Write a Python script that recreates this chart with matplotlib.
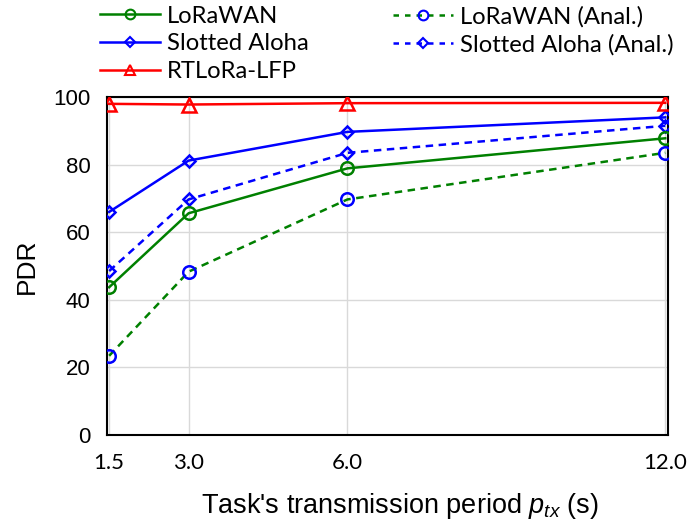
import matplotlib
matplotlib.use("Agg")
import matplotlib.pyplot as plt
from matplotlib.lines import Line2D

plt.rcParams["mathtext.fontset"] = "custom"
plt.rcParams["mathtext.it"] = "Liberation Sans:italic"
plt.rcParams["mathtext.rm"] = "Liberation Sans"

# Transmission periods (s) and packet delivery ratios (%)
periods = [1.5, 3.0, 6.0, 12.0]
period_labels = ["1.5", "3.0", "6.0", "12.0"]
lorawan = [43.7, 65.6, 78.9, 87.8]
slotted_aloha = [66.0, 81.2, 89.7, 94.0]
rtlora_lfp = [98.0, 97.8, 98.2, 98.3]
lorawan_anal = [23.4, 48.3, 69.7, 83.5]
slotted_aloha_anal = [48.5, 69.7, 83.5, 91.5]
y_ticks = [0, 20, 40, 60, 80, 100]

GREEN = "#008000"
BLUE = "#0000FF"
RED = "#FF0000"
ARIAL = "Liberation Sans"
LEG_FONT = "Lato"

fig = plt.figure(figsize=(6.95, 5.22), dpi=100)
ax = fig.add_axes([0.154, 0.167, 0.807, 0.647])

lw = 1.8
dash = (0, (3.0, 2.2))

ax.plot(periods, lorawan_anal, color=GREEN, lw=lw, linestyle=dash,
        marker="o", ms=9, mfc="none", mec=BLUE, mew=1.8, zorder=3)
ax.plot(periods, slotted_aloha_anal, color=BLUE, lw=lw, linestyle=dash,
        marker="D", ms=6.3, mfc="none", mec=BLUE, mew=1.8, zorder=3)
ax.plot(periods, lorawan, color=GREEN, lw=lw,
        marker="o", ms=9, mfc="none", mec=GREEN, mew=1.8, zorder=4)
ax.plot(periods, slotted_aloha, color=BLUE, lw=lw,
        marker="D", ms=6.3, mfc="none", mec=BLUE, mew=1.8, zorder=4)
ax.plot(periods, rtlora_lfp, color=RED, lw=lw,
        marker="^", ms=9.5, mfc="none", mec=RED, mew=1.8, zorder=5)

ax.set_xlim(1.46, 12.05)
ax.set_ylim(0, 100)
ax.set_xticks(periods)
ax.set_xticklabels(period_labels, fontfamily=LEG_FONT, fontsize=16)
ax.set_yticks(y_ticks)
ax.set_yticklabels([str(v) for v in y_ticks], fontfamily=ARIAL, fontsize=16)
ax.tick_params(axis="x", length=0, pad=13)
ax.tick_params(axis="y", length=0, pad=12)

ax.grid(True, color="#d9d9d9", lw=1.0, zorder=0)
ax.set_axisbelow(True)
for s in ax.spines.values():
    s.set_color("black")
    s.set_linewidth(1.5)

ax.set_ylabel("PDR", fontfamily=ARIAL, fontsize=19, labelpad=10)
ax.set_xlabel(r"Task's transmission period $p_{tx}$ (s)", fontfamily=ARIAL,
              fontsize=19.5)
ax.xaxis.set_label_coords(0.522, -0.166)

# Legend: left column solid series, right column analytical series
def handle(color, marker, mec, ms, ls="-"):
    return Line2D([], [], color=color, lw=lw, linestyle=ls, marker=marker,
                  ms=ms, mfc="none", mec=mec, mew=1.5)

h_left = [handle(GREEN, "o", GREEN, 7), handle(BLUE, "D", BLUE, 5),
          handle(RED, "^", RED, 7)]
l_left = ["LoRaWAN", "Slotted Aloha", "RTLoRa-LFP"]
h_right = [handle(GREEN, "o", BLUE, 7, (0, (2.2, 2.4))),
           handle(BLUE, "D", BLUE, 5, (0, (2.2, 2.4)))]
l_right = ["LoRaWAN (Anal.)", "Slotted Aloha (Anal.)"]

leg_kw = dict(frameon=False, handlelength=2.5, handletextpad=0.3,
              labelspacing=0.28, borderaxespad=0, borderpad=0,
              prop={"family": LEG_FONT, "size": 17.2})
fig.legend(h_left, l_left, loc="upper left",
           bbox_to_anchor=(0.144, 0.989), **leg_kw)
fig.legend(h_right, l_right, loc="upper left",
           bbox_to_anchor=(0.5655, 0.989), **leg_kw)

fig.savefig("out.png", dpi=100)
